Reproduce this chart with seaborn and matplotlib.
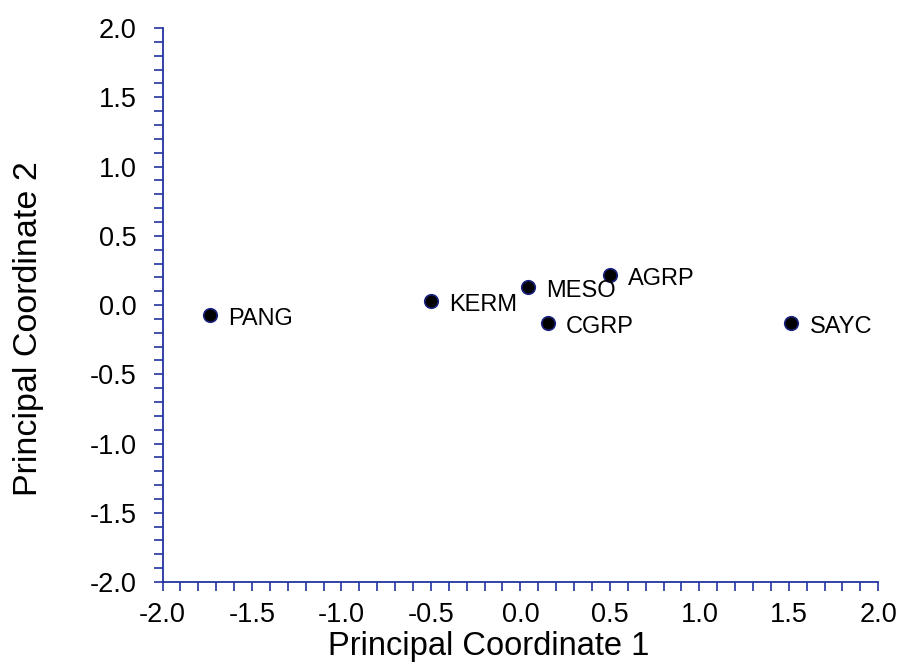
import matplotlib
matplotlib.use("Agg")
import matplotlib.pyplot as plt
from matplotlib.ticker import MultipleLocator, FormatStrFormatter
import seaborn as sns
import pandas as pd

groups = ["PANG", "KERM", "MESO", "AGRP", "CGRP", "SAYC"]
coord1 = [-1.735, -0.50, 0.045, 0.50, 0.155, 1.515]
coord2 = [-0.07, 0.03, 0.13, 0.22, -0.13, -0.13]

df = pd.DataFrame({"Principal Coordinate 1": coord1,
                   "Principal Coordinate 2": coord2,
                   "group": groups})

sns.set_style("white")
plt.rcParams["font.family"] = ["Liberation Sans", "DejaVu Sans"]
plt.rcParams["text.color"] = "black"
plt.rcParams["axes.labelcolor"] = "black"

axis_blue = "#2233a0"

fig = plt.figure(figsize=(8.98, 6.69), dpi=100)
ax = fig.add_axes([0.181, 0.130, 0.797, 0.828])

sns.scatterplot(data=df, x="Principal Coordinate 1", y="Principal Coordinate 2",
                ax=ax, s=95, color="black", edgecolor="#1a237e", linewidth=1.2,
                zorder=3, legend=False)

for name, x, y in zip(groups, coord1, coord2):
    ax.annotate(name, (x, y), xytext=(13, -3), textcoords="offset points",
                ha="left", va="center", fontsize=17, color="black")

ax.set_xlim(-2.0, 2.0)
ax.set_ylim(-2.0, 2.0)
ax.xaxis.set_major_locator(MultipleLocator(0.5))
ax.yaxis.set_major_locator(MultipleLocator(0.5))
ax.xaxis.set_minor_locator(MultipleLocator(0.1))
ax.yaxis.set_minor_locator(MultipleLocator(0.1))
ax.xaxis.set_major_formatter(FormatStrFormatter("%.1f"))
ax.yaxis.set_major_formatter(FormatStrFormatter("%.1f"))

for side in ("top", "right"):
    ax.spines[side].set_visible(False)
for side in ("left", "bottom"):
    ax.spines[side].set_color(axis_blue)
    ax.spines[side].set_linewidth(1.3)

ax.tick_params(axis="both", which="both", direction="out", length=6.5,
               width=1.2, color=axis_blue, labelcolor="black", labelsize=19.5,
               bottom=True, left=True, top=False, right=False)
ax.tick_params(axis="x", which="major", pad=8)
ax.tick_params(axis="y", which="major", pad=12)

ax.set_xlabel("Principal Coordinate 1", fontsize=23.5)
ax.set_ylabel("Principal Coordinate 2", fontsize=24.5)
ax.xaxis.set_label_coords(0.456, -0.088)
ax.yaxis.set_label_coords(-0.165, 0.458)

fig.savefig("out.png", dpi=100, facecolor="white")
